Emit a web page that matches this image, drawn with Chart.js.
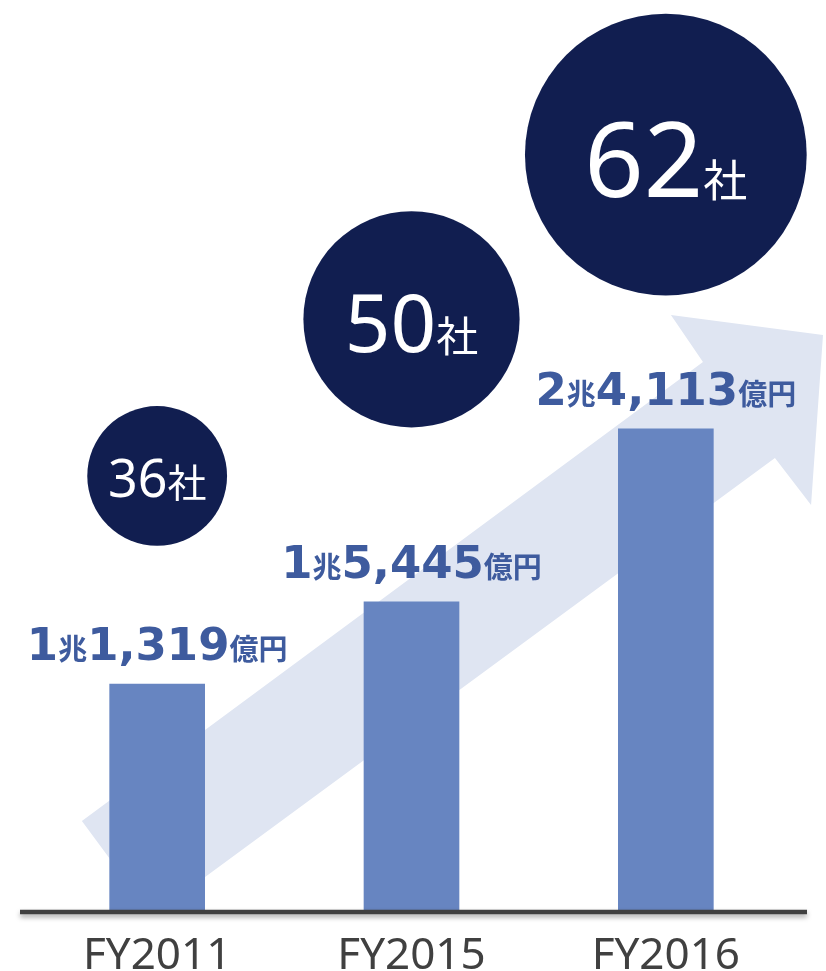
<!DOCTYPE html>
<html lang="ja">
<head>
<meta charset="utf-8">
<title>取扱高と社数の推移</title>
<script src="https://cdn.jsdelivr.net/npm/chart.js@4/dist/chart.umd.min.js"></script>
<style>
  html, body { margin: 0; padding: 0; background: #fff; }
  #wrap { width: 826px; height: 971px; }
</style>
</head>
<body>
<div id="wrap"><canvas id="growthChart" width="826" height="971"></canvas></div>
<script>
// ----- データ -----
const years = ['FY2011', 'FY2015', 'FY2016'];
const amounts = [11319, 15445, 24113];   // 億円
const companies = [36, 50, 62];          // 社

// ----- 色 -----
const barColor = '#6785c1';
const circleColor = '#111e50';
const arrowColor = '#dfe5f2';
const labelColor = '#3e5b9e';
const axisColor = '#404040';

// 円の高さ（縦軸の値で指定）
const circleLevel = [21750, 29600, 37850];

// 社数 → 円の半径(px)
function companyRadius(n) {
    return (n - 10.4) * 2.73;
}

// 金額 → 「1兆1,319億円」の部品に分ける
function amountParts(v) {
    const cho = Math.floor(v / 10000);
    const oku = (v % 10000).toLocaleString('en-US');
    const big = "bold 45px 'DejaVu Sans'";
    const small = "bold 29px 'Noto Sans CJK JP'";
    return [
        { text: String(cho), font: big },
        { text: '兆', font: small },
        { text: oku, font: big },
        { text: '億円', font: small }
    ];
}

function drawParts(ctx, parts, cx, baseline) {
    let total = 0;
    parts.forEach(p => {
        ctx.font = p.font;
        p.w = ctx.measureText(p.text).width;
        total += p.w;
    });
    let x = cx - total / 2;
    parts.forEach(p => {
        ctx.font = p.font;
        ctx.fillText(p.text, x, baseline);
        x += p.w;
    });
}

// 大きな円でグラフ領域が縮まないようにする
Chart.BubbleController.prototype.getMaxOverflow = function() {
    return false;
};

// 背景の矢印（カテゴリ番号, 縦軸の値）
const arrowShape = [
    [-0.296, 4460], [-0.020, -300], [2.429, 22650], [2.571, 20295],
    [2.618, 28813], [2.020, 29815], [2.146, 27460]
];

const arrowPlugin = {
    id: 'arrowPlugin',
    beforeDatasetsDraw(chart) {
        const { ctx, chartArea, scales } = chart;
        ctx.save();
        ctx.beginPath();
        ctx.rect(0, 0, chart.width, chartArea.bottom);
        ctx.clip();
        ctx.beginPath();
        arrowShape.forEach((pt, i) => {
            const x = scales.x.getPixelForValue(pt[0]);
            const y = scales.y.getPixelForValue(pt[1]);
            if (i === 0) ctx.moveTo(x, y); else ctx.lineTo(x, y);
        });
        ctx.closePath();
        ctx.fillStyle = arrowColor;
        ctx.fill();
        ctx.restore();
    }
};

// 横軸の線・金額ラベル・円の中の社数
const labelPlugin = {
    id: 'labelPlugin',
    afterDatasetsDraw(chart) {
        const { ctx, chartArea } = chart;
        ctx.save();

        // 横軸の線（影つき）
        ctx.shadowColor = 'rgba(0,0,0,0.35)';
        ctx.shadowBlur = 5;
        ctx.shadowOffsetY = 3;
        ctx.strokeStyle = axisColor;
        ctx.lineWidth = 4.5;
        ctx.beginPath();
        ctx.moveTo(20, chartArea.bottom + 2);
        ctx.lineTo(807, chartArea.bottom + 2);
        ctx.stroke();
        ctx.shadowColor = 'transparent';

        // 金額ラベル
        ctx.fillStyle = labelColor;
        ctx.textAlign = 'left';
        ctx.textBaseline = 'alphabetic';
        const barMeta = chart.getDatasetMeta(1);
        barMeta.data.forEach((bar, i) => {
            drawParts(ctx, amountParts(amounts[i]), bar.x, bar.y - 24);
        });

        // 円の中の社数
        ctx.fillStyle = '#ffffff';
        const circleMeta = chart.getDatasetMeta(0);
        circleMeta.data.forEach((pt, i) => {
            const r = companyRadius(companies[i]);
            drawParts(ctx, [
                { text: String(companies[i]), font: `${Math.round(r * 0.74)}px 'Noto Sans'` },
                { text: '社', font: `${Math.round(34 + r * 0.07)}px 'Noto Sans CJK JP'` }
            ], pt.x, pt.y + r * 0.3);
        });
        ctx.restore();
    }
};

const ctx = document.getElementById('growthChart');

new Chart(ctx, {
    type: 'bar',
    data: {
        labels: years,
        datasets: [{
            type: 'bubble',
            label: '社数',
            data: years.map((y, i) => ({ x: y, y: circleLevel[i], r: companyRadius(companies[i]) })),
            backgroundColor: circleColor,
            borderWidth: 0,
            clip: false
        }, {
            type: 'bar',
            label: '金額（億円）',
            data: amounts,
            backgroundColor: barColor,
            barThickness: 95
        }]
    },
    options: {
        responsive: false,
        animation: false,
        devicePixelRatio: 1,
        layout: { padding: { left: 30, right: 33, top: 0, bottom: 0 } },
        plugins: {
            legend: { display: false },
            tooltip: { enabled: false }
        },
        scales: {
            x: {
                grid: { display: false, drawTicks: false },
                border: { display: false },
                ticks: {
                    color: axisColor,
                    font: { family: "'Noto Sans'", size: 44 },
                    padding: 20
                },
                afterFit(scale) { scale.height = 61; }
            },
            y: {
                display: false,
                min: 0,
                max: 45600
            }
        }
    },
    plugins: [arrowPlugin, labelPlugin]
});
</script>
</body>
</html>
